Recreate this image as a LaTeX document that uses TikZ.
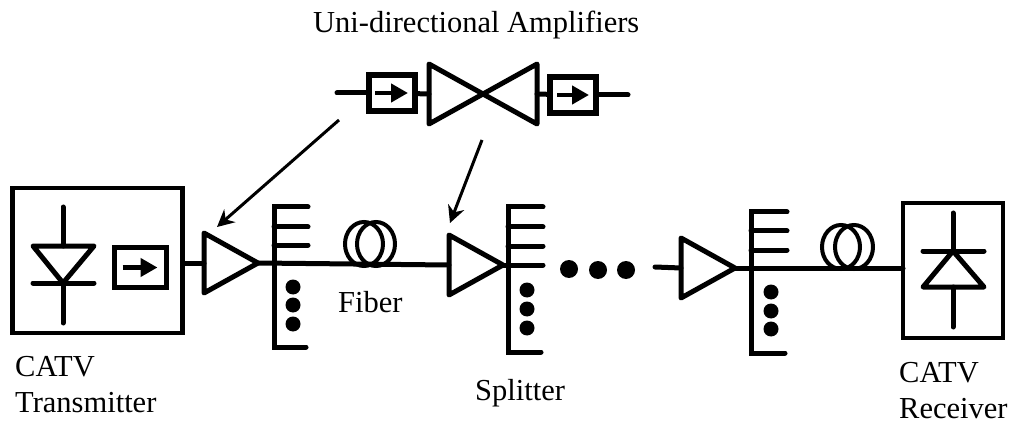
\documentclass[tikz,border=0pt]{standalone}
\usepackage{fontspec}
\setmainfont{Liberation Serif}
\usetikzlibrary{arrows.meta,shapes.geometric}
\tikzset{
    wire/.style={line width=5pt,line cap=round},
    flow/.style={line width=4.5pt,-{Triangle[length=17pt,width=18pt]}},
    boxed/.style={draw,line width=4.5pt,inner sep=0pt,outer sep=0pt},
    isolator/.style={boxed,line width=5.5pt,minimum width=46pt,minimum height=36pt},
    amp/.style={draw,line width=5pt,line join=round,isosceles triangle,isosceles triangle stretches,
        minimum width=60pt,minimum height=54pt,inner sep=0pt,outer sep=0pt,anchor=apex},
    bead/.style={circle,fill,inner sep=0pt,minimum size=15pt},
    coil/.style={draw,ellipse,line width=4pt,minimum width=38pt,minimum height=44pt,inner sep=0pt},
    pointer/.style={line width=3pt,-{Stealth[length=17pt,width=17pt]}},
    label/.style={font=\fontsize{30.5}{36}\selectfont,inner sep=0pt,align=left,anchor=base west},
}
\begin{document}
\begin{tikzpicture}[x=1pt,y=-1pt,node distance=50pt]
    \useasboundingbox (0,0) rectangle (1013,425);

    % top row
    \node[label] (title) at (313,33) {Uni-directional Amplifiers};
    \node[isolator] (isoA) at (392,93) {};
    \node[amp] (ampL) at (483,94) {};
    \node[amp,shape border rotate=180] (ampR) at (483,94) {};
    \node[isolator] (isoB) at (573,95) {};
    \coordinate (leadA) at (337,93);
    \coordinate (leadB) at (628,95);
    \draw[wire] (leadA) -- (isoA);
    \draw[wire] (isoA) -- (ampL.west);
    \draw[wire] (ampR.east) -- (isoB);
    \draw[wire] (isoB) -- (leadB);
    \draw[flow] (isoA.center) ++(-17,0) -- ++(33,0);
    \draw[flow] (isoB.center) ++(-16,0) -- ++(32,0);

    % transmitter
    \node[boxed,minimum width=170pt,minimum height=145pt] (tx) at (97.5,260.5) {};
    \node[isolator,minimum width=52pt,minimum height=40pt] (isoT) at (140.5,267.5) {};
    \draw[flow] (isoT.center) ++(-18,0) -- ++(35,0);
    \draw[wire,line join=round] (33,246) -- (94,246) -- (63,283) -- cycle;
    \draw[wire] (33,283) -- (94,283);
    \draw[wire] (63,207) -- (63,246);
    \draw[wire] (63,283) -- (63,323);
    \node[label] (txtext) at (15,412) {CATV\\Transmitter};

    % amplifiers on the line
    \node[amp] (amp1) at (258,263) {};
    \node[amp] (amp2) at (503,265) {};
    \node[amp] (amp3) at (735,268) {};
    \coordinate (lead3) at (655,267);

    % splitters
    \coordinate (s1) at (274,207);
    \coordinate (s2) at (508,207);
    \coordinate (s3) at (751,212);
    \draw[wire] (s1) ++(34,0) -- (s1) -- ++(0,140) -- ++(32,0);
    \draw[wire] (s1) ++(0,20) -- ++(34,0);
    \draw[wire] (s1) ++(0,38) -- ++(34,0);
    \draw[wire] (s2) ++(35,0) -- (s2) -- ++(0,145) -- ++(33,0);
    \draw[wire] (s2) ++(0,20) -- ++(35,0);
    \draw[wire] (s2) ++(0,39) -- ++(35,0);
    \draw[wire] (s3) ++(36,0) -- (s3) -- ++(0,141) -- ++(34,0);
    \draw[wire] (s3) ++(0,19) -- ++(36,0);
    \draw[wire] (s3) ++(0,38) -- ++(36,0);
    \coordinate (tap2) at (543,265);
    \node[bead] (d1a) at (293,287) {};
    \node[bead] (d1b) at (293,305) {};
    \node[bead] (d1c) at (293,324) {};
    \node[bead] (d2a) at (527,290) {};
    \node[bead] (d2b) at (527,309) {};
    \node[bead] (d2c) at (527,328) {};
    \node[bead] (d3a) at (771,292) {};
    \node[bead] (d3b) at (771,311) {};
    \node[bead] (d3c) at (771,329) {};
    \node[bead,minimum size=18pt] (gapA) at (569,269) {};
    \node[bead,minimum size=18pt] (gapB) at (598,270) {};
    \node[bead,minimum size=18pt] (gapC) at (626,270) {};
    \node[label] (split) at (475,400) {Splitter};

    % fiber
    \node[coil] (c1a) at (364,244) {};
    \node[coil] (c1b) at (376,244) {};
    \node[coil] (c2a) at (841,247) {};
    \node[coil] (c2b) at (854,247) {};
    \node[label] (fiber) at (338,312) {Fiber};

    % receiver
    \node[boxed,minimum width=100pt,minimum height=135pt] (rx) at (953,270.5) {};
    \draw[wire,line join=round] (923,287) -- (984,287) -- (953,251) -- cycle;
    \draw[wire] (923,251) -- (984,251);
    \draw[wire] (953,213) -- (953,251);
    \draw[wire] (953,287) -- (953,327);
    \node[label] (rxtext) at (899,418) {CATV\\Receiver};

    % line
    \draw[wire] (tx.east |- amp1.west) -- (amp1.west);
    \draw[wire] (amp1.apex) -- (amp2.west);
    \draw[wire] (amp2.apex) -- (tap2);
    \draw[wire] (lead3) -- (amp3.west);
    \draw[wire] (amp3.apex) -- (rx.west |- amp3.apex);

    % pointers
    \coordinate (from1) at (339,120);
    \coordinate (from2) at (482,140);
    \coordinate (to1) at (217,227);
    \coordinate (to2) at (450,223);
    \draw[pointer] (from1) -- (to1);
    \draw[pointer] (from2) -- (to2);
\end{tikzpicture}
\end{document}
